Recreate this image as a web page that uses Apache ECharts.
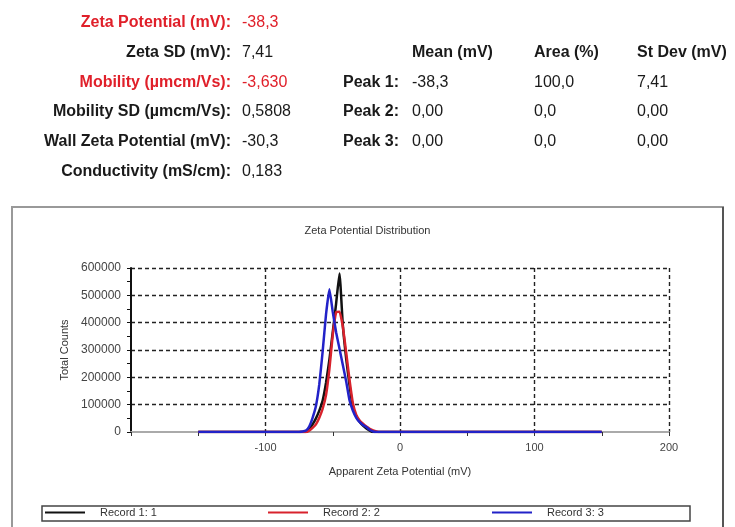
<!DOCTYPE html>
<html>
<head>
<meta charset="utf-8">
<script src="https://cdn.jsdelivr.net/npm/echarts@6/dist/echarts.min.js"></script>
<style>
html,body{margin:0;padding:0;background:#fff;}
#chart{width:735px;height:527px;}
</style>
</head>
<body>
<div id="chart"></div>
<script>
// ---- Data ----
const xValues = [-150, -75, -70, -67.5, -65, -62.5, -60, -57.5, -55, -52.5, -50, -47.5, -45, -42.5, -40, -37.5, -35, -32.5, -30, -27.5, -25, -22.5, -20, -17.5, -15, 150];
const record1 = [0, 0, 0, 10000, 28000, 50000, 78000, 115000, 180000, 265000, 365000, 470000, 580000, 390000, 268000, 170000, 90000, 58000, 37000, 23000, 13000, 5000, 0, 0, 0, 0];
const record2 = [0, 0, 0, 5000, 15000, 28000, 52000, 85000, 135000, 230000, 355000, 438000, 440000, 385000, 290000, 190000, 105000, 62000, 42000, 30000, 20000, 12000, 6000, 2000, 0, 0];
const record3 = [0, 0, 5000, 20000, 52000, 95000, 175000, 295000, 430000, 522000, 440000, 365000, 305000, 245000, 185000, 115000, 78000, 52000, 36000, 26000, 18000, 8000, 2000, 0, 0, 0];
const seriesNames = ['Record 1: 1', 'Record 2: 2', 'Record 3: 3'];
const seriesColors = ['#111111', '#d8222c', '#2222c8'];

const summaryLabels = ['Zeta Potential (mV):', 'Zeta SD (mV):', 'Mobility (µmcm/Vs):', 'Mobility SD (µmcm/Vs):', 'Wall Zeta Potential (mV):', 'Conductivity (mS/cm):'];
const summaryValues = ['-38,3', '7,41', '-3,630', '0,5808', '-30,3', '0,183'];
const summaryRed = [true, false, true, false, false, false];

const peakHeaders = ['Mean (mV)', 'Area (%)', 'St Dev (mV)'];
const peakLabels = ['Peak 1:', 'Peak 2:', 'Peak 3:'];
const peakMean = ['-38,3', '0,00', '0,00'];
const peakArea = ['100,0', '0,0', '0,0'];
const peakStDev = ['7,41', '0,00', '0,00'];

// ---- Build ----
const FONT = '"Liberation Sans", Arial, sans-serif';
const RED = '#e0202a';
const DARK = '#1a1a1a';
const graphics = [];
const rowY = [23, 53, 83, 112, 142, 172];
summaryLabels.forEach((t, i) => {
  graphics.push({type: 'text', style: {text: t, x: 231, y: rowY[i], align: 'right', verticalAlign: 'middle', font: 'bold 16px ' + FONT, fill: summaryRed[i] ? RED : DARK}});
  graphics.push({type: 'text', style: {text: summaryValues[i], x: 242, y: rowY[i], align: 'left', verticalAlign: 'middle', font: '16px ' + FONT, fill: summaryRed[i] ? RED : DARK}});
});
const colX = [412, 534, 637];
peakHeaders.forEach((t, i) => {
  graphics.push({type: 'text', style: {text: t, x: colX[i], y: rowY[1], align: 'left', verticalAlign: 'middle', font: 'bold 16px ' + FONT, fill: DARK}});
});
peakLabels.forEach((t, r) => {
  const y = rowY[2 + r];
  graphics.push({type: 'text', style: {text: t, x: 343, y: y, align: 'left', verticalAlign: 'middle', font: 'bold 16px ' + FONT, fill: DARK}});
  [peakMean[r], peakArea[r], peakStDev[r]].forEach((v, c) => {
    graphics.push({type: 'text', style: {text: v, x: colX[c], y: y, align: 'left', verticalAlign: 'middle', font: '16px ' + FONT, fill: DARK}});
  });
});
// chart frame
graphics.push({type: 'rect', z: -10, shape: {x: 12, y: 207, width: 711, height: 340}, style: {fill: '#fff', stroke: '#999', lineWidth: 2}});
graphics.push({type: 'line', z: -9, shape: {x1: 723, y1: 207, x2: 723, y2: 540}, style: {stroke: '#555', lineWidth: 2}});
// legend frame
graphics.push({type: 'rect', z: -8, shape: {x: 42, y: 506, width: 648, height: 15}, style: {fill: '#fff', stroke: '#444', lineWidth: 1.5}});

const chart = echarts.init(document.getElementById('chart'), null, {renderer: 'canvas'});
const lx = [45, 268, 492];
chart.setOption({
  animation: false,
  backgroundColor: '#fff',
  title: {text: 'Zeta Potential Distribution', left: 'center', top: 220, textStyle: {fontSize: 11, fontWeight: 'normal', color: '#333', fontFamily: FONT}},
  graphic: graphics,
  legend: seriesNames.map((n, i) => ({
    data: [n], left: lx[i], top: 507, itemWidth: 40, itemHeight: 2, icon: 'rect', padding: 0,
    textStyle: {fontSize: 11, color: '#333', fontFamily: FONT, padding: [0, 0, 0, 10]}
  })),
  grid: {left: 131, right: 66, top: 268, bottom: 95, containLabel: false},
  xAxis: {
    type: 'value', min: -200, max: 200, interval: 100,
    name: 'Apparent Zeta Potential (mV)', nameLocation: 'middle', nameGap: 34,
    nameTextStyle: {fontSize: 11, color: '#333', fontFamily: FONT},
    axisLine: {onZero: false, lineStyle: {color: '#aaa', width: 2}},
    axisTick: {show: true, length: 4, lineStyle: {color: '#333'}},
    minorTick: {show: true, splitNumber: 2, length: 4, lineStyle: {color: '#333'}},
    axisLabel: {showMinLabel: false, fontSize: 11, color: '#444', fontFamily: FONT, margin: 10},
    splitLine: {show: true, showMinLine: false, lineStyle: {color: '#222', type: [4, 3], width: 1.4}}
  },
  yAxis: {
    type: 'value', min: 0, max: 600000, interval: 100000,
    name: 'Total Counts', nameLocation: 'middle', nameGap: 56,
    nameTextStyle: {fontSize: 11, color: '#333', fontFamily: FONT},
    axisLine: {show: true, onZero: false, lineStyle: {color: '#111', width: 2}},
    axisTick: {show: true, length: 4, lineStyle: {color: '#111'}},
    minorTick: {show: true, splitNumber: 2, length: 4, lineStyle: {color: '#111'}},
    axisLabel: {fontSize: 12, color: '#444', fontFamily: FONT, margin: 10, formatter: v => String(v)},
    splitLine: {show: true, showMinLine: false, lineStyle: {color: '#222', type: [4, 3], width: 1.4}}
  },
  series: [record1, record2, record3].map((arr, i) => ({
    name: seriesNames[i], type: 'line', showSymbol: false, smooth: 0.15,
    color: seriesColors[i], lineStyle: {width: 2.5, color: seriesColors[i]},
    data: xValues.map((x, k) => [x, arr[k]])
  }))
});
</script>
</body>
</html>
